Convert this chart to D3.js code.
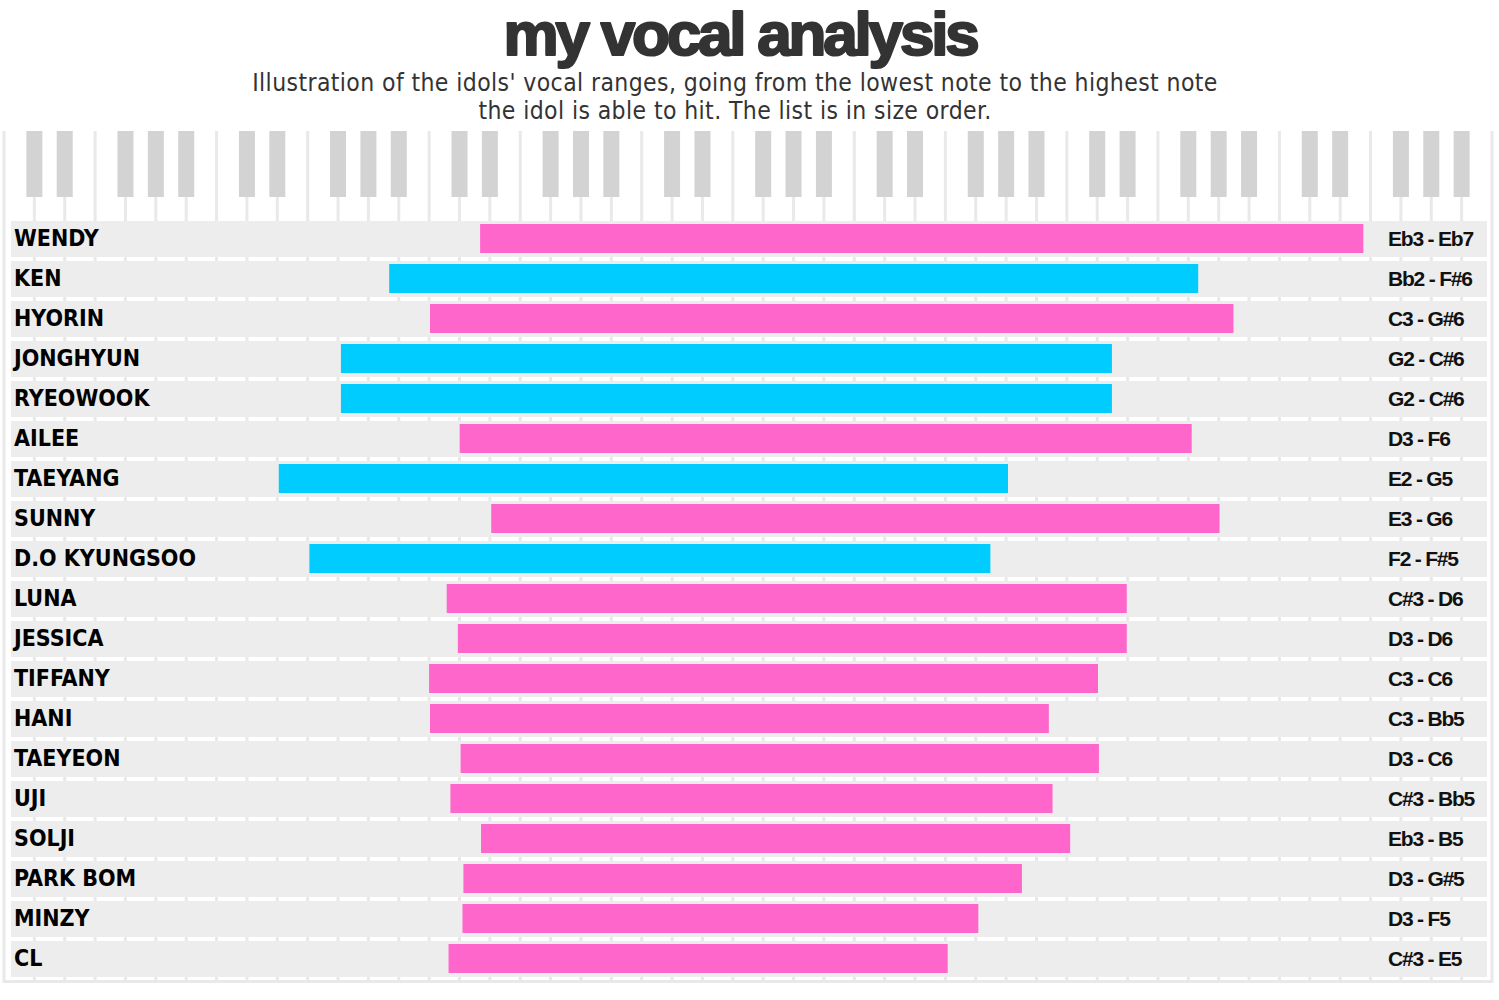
<!DOCTYPE html>
<html>
<head>
<meta charset="utf-8">
<script src="https://cdn.jsdelivr.net/npm/d3@7"></script>
<style>
    body { margin: 0; background: #fff; }
    svg { display: block; }
</style>
</head>
<body>
<div id="chart"></div>
<script>
var width = 1499
var height = 1000

// idols, top to bottom
var names = ['WENDY', 'KEN', 'HYORIN', 'JONGHYUN', 'RYEOWOOK', 'AILEE', 'TAEYANG',
    'SUNNY', 'D.O KYUNGSOO', 'LUNA', 'JESSICA', 'TIFFANY', 'HANI', 'TAEYEON',
    'UJI', 'SOLJI', 'PARK BOM', 'MINZY', 'CL']
var genders = ['f', 'm', 'f', 'm', 'm', 'f', 'm',
    'f', 'm', 'f', 'f', 'f', 'f', 'f',
    'f', 'f', 'f', 'f', 'f']
var lowNotes = ['Eb3', 'Bb2', 'C3', 'G2', 'G2', 'D3', 'E2',
    'E3', 'F2', 'C#3', 'D3', 'C3', 'C3', 'D3',
    'C#3', 'Eb3', 'D3', 'D3', 'C#3']
var highNotes = ['Eb7', 'F#6', 'G#6', 'C#6', 'C#6', 'F6', 'G5',
    'G6', 'F#5', 'D6', 'D6', 'C6', 'Bb5', 'C6',
    'Bb5', 'B5', 'G#5', 'F5', 'E5']
// bar ends in semitones (C3 = 48), as drawn
var lowPitch = [50.7, 45.8, 48.0, 43.2, 43.2, 49.6, 39.85,
    51.3, 41.5, 48.9, 49.5, 47.95, 48.0, 49.65,
    49.1, 50.75, 49.8, 49.75, 49.0]
var highPitch = [98.3, 89.4, 91.3, 84.75, 84.75, 89.05, 79.15,
    90.55, 78.2, 85.55, 85.55, 84.0, 81.35, 84.05,
    81.55, 82.5, 79.9, 77.55, 75.9]

var whiteKeys = 'CDEFGAB'.split('')
var blackAfter = [0, 1, 3, 4, 5]  // C#, D#, F#, G#, A#
var octaves = 7

var colors = { f: '#ff66cc', m: '#00ccff' }

var rows = names.map(function(d, i) {
    return {
        name: d,
        gender: genders[i],
        low: lowPitch[i],
        high: highPitch[i],
        label: lowNotes[i] + ' - ' + highNotes[i]
    }
})

var svg = d3.select('#chart').append('svg')
    .attr('width', width)
    .attr('height', height)

var x = d3.scaleLinear()
    .domain([48, 84])
    .range([430, 1098])

var keyX = d3.scaleLinear()
    .domain([0, whiteKeys.length * octaves])
    .range([4, 1492])

var y = d3.scaleBand()
    .domain(names)
    .range([221, 977])
    .paddingInner(0.1)

var keyTop = 131
var chartBottom = 981.5

// title
svg.append('text')
    .attr('x', 740)
    .attr('y', 55)
    .attr('text-anchor', 'middle')
    .attr('font-family', 'Liberation Sans, Arial, sans-serif')
    .attr('font-weight', 'bold')
    .attr('font-size', 62)
    .attr('letter-spacing', -3.2)
    .attr('fill', '#333')
    .attr('stroke', '#333')
    .attr('stroke-width', 2.2)
    .attr('stroke-linejoin', 'round')
    .text('my vocal analysis')

var subtitle = [
    "Illustration of the idols' vocal ranges, going from the lowest note to the highest note",
    'the idol is able to hit. The list is in size order.'
]

svg.append('text')
    .attr('text-anchor', 'middle')
    .attr('font-family', 'DejaVu Sans Condensed, DejaVu Sans, sans-serif')
    .attr('font-size', 24.5)
    .attr('letter-spacing', 0.4)
    .attr('fill', '#333')
    .selectAll('tspan')
    .data(subtitle)
    .enter().append('tspan')
    .attr('x', 735)
    .attr('y', function(d, i) { return 90.5 + i * 28.5 })
    .text(function(d) { return d })

// keyboard: white key edges run all the way down
var edges = d3.range(whiteKeys.length * octaves + 1)

svg.append('g').selectAll('line')
    .data(edges)
    .enter().append('line')
    .attr('x1', function(d) { return keyX(d) })
    .attr('x2', function(d) { return keyX(d) })
    .attr('y1', keyTop)
    .attr('y2', chartBottom)
    .attr('stroke', '#e9e9e9')
    .attr('stroke-width', 3)

svg.append('line')
    .attr('x1', keyX(0) - 1.5)
    .attr('x2', keyX(edges.length - 1) + 1.5)
    .attr('y1', chartBottom)
    .attr('y2', chartBottom)
    .attr('stroke', '#e9e9e9')
    .attr('stroke-width', 3)

var blackKeys = []
d3.range(octaves).forEach(function(o) {
    blackAfter.forEach(function(w) { blackKeys.push(o * 7 + w + 1) })
})

svg.append('g').selectAll('rect')
    .data(blackKeys)
    .enter().append('rect')
    .attr('x', function(d) { return keyX(d) - 8 })
    .attr('y', keyTop)
    .attr('width', 16)
    .attr('height', 66)
    .attr('fill', '#d3d3d3')

// rows
var row = svg.append('g').selectAll('.row')
    .data(rows)
    .enter().append('g')
    .attr('class', 'row')
    .attr('transform', function(d) { return 'translate(0,' + y(d.name) + ')' })

row.append('rect')
    .attr('x', 11)
    .attr('width', 1476)
    .attr('height', y.bandwidth())
    .attr('fill', '#ededed')

row.append('rect')
    .attr('x', function(d) { return x(d.low) })
    .attr('y', 3)
    .attr('width', function(d) { return x(d.high) - x(d.low) })
    .attr('height', 29)
    .attr('fill', function(d) { return colors[d.gender] })

row.append('text')
    .attr('x', 14)
    .attr('y', 25)
    .attr('font-family', 'DejaVu Sans Condensed, DejaVu Sans, sans-serif')
    .attr('font-weight', 'bold')
    .attr('font-size', 23)
    .attr('fill', '#000')
    .text(function(d) { return d.name })

row.append('text')
    .attr('x', 1388)
    .attr('y', 24.5)
    .attr('font-family', 'Liberation Sans, Arial, sans-serif')
    .attr('font-weight', 'bold')
    .attr('font-size', 21)
    .attr('letter-spacing', -1.2)
    .attr('fill', '#111')
    .text(function(d) { return d.label })
</script>
</body>
</html>
